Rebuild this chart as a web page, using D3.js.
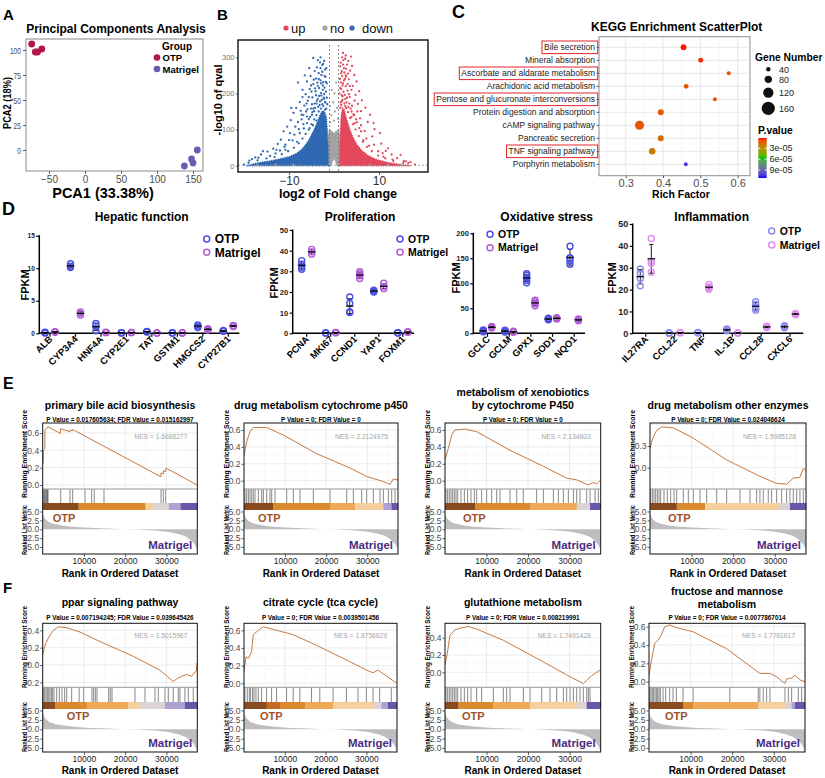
<!DOCTYPE html>
<html>
<head>
<meta charset="utf-8">
<script src="https://cdn.jsdelivr.net/npm/d3@7"></script>
<style>
  body { margin: 0; background: #fff; }
  svg { display: block; }
  text { font-family: "Liberation Sans", Arial, Helvetica, sans-serif; }
</style>
</head>
<body>
<svg id="fig" width="825" height="778"></svg>
<script>
// ---------------- data ----------------
// A: PCA
const pcaGroups = ["OTP", "Matrigel"];
const pcaOtpX = [-74, -69, -66, -60];
const pcaOtpY = [106, 98, 98, 101];
const pcaMatX = [156, 148, 150, 138];
const pcaMatY = [0, -9, -13, -16];
const pcaXTicks = [-50, 0, 50, 100, 150];
const pcaYTicks = [0, 25, 50, 75, 100];

// B: volcano (log2FC, -log10 q). dense cores as outlines, sparse points listed
const volLegend = ["up", "no", "down"];
const volXTicks = [-10, 10];
const volYTicks = [0, 100, 200, 300];
const volDownCore = [[-19.5,0],[-18,5],[-16,10],[-14,14],[-12,19],[-10,25],[-8.5,33],[-7.2,45],[-6.2,60],[-5.3,78],[-4.5,98],[-3.8,118],[-3.2,138],[-2.6,152],[-2.1,150],[-1.7,135],[-1.45,95],[-1.3,45],[-1.25,0]];
const volUpCore = [[1.25,0],[1.3,45],[1.4,100],[1.6,140],[1.9,160],[2.3,155],[2.8,130],[3.4,105],[4.1,82],[5.0,60],[6.2,42],[7.6,28],[9.5,17],[12,9],[14.5,4],[17,0]];
const volNoCore = [[-1.3,0],[-1.35,40],[-1.3,80],[-1.0,100],[-0.5,95],[0,90],[0.5,95],[1.0,100],[1.3,80],[1.35,40],[1.3,0],[0.6,0],[0.15,18],[-0.15,18],[-0.6,0]];
const volDown = [[-2.2,290],[-3.1,286],[-2.6,279],[-3.8,272],[-2.0,266],[-4.3,262],[-3.4,256],[-2.8,251],[-1.9,246],[-5.2,248],[-4.0,241],[-3.0,236],[-2.4,231],[-6.0,233],[-4.6,226],[-3.6,221],[-2.1,216],[-5.4,212],[-4.1,206],[-2.9,201],[-7.0,210],[-6.3,198],[-3.3,193],[-4.8,189],[-2.2,185],[-5.8,180],[-7.6,176],[-3.9,172],[-6.6,166],[-8.4,160],[-5.1,158],[-4.4,151],[-9.0,146],[-7.2,141],[-6.0,136],[-10.4,108],[-8.0,121],[-9.6,126],[-11.2,95],[-12.5,60],[-13.5,47],[-14.8,39],[-16.2,31],[-17.5,23],[-18.8,14],[-13.0,34],[-11.0,52],[-10.0,71],[-8.8,86],[-7.8,101],[-6.8,115],[-5.6,129],[-4.9,141],[-8.2,66],[-10.8,44],[-9.5,160],[-7.0,190],[-5.5,270],[-6.5,250],[-1.8,205],[-1.5,170],[-1.6,228],[-8.0,230],[-3.0,300],[-4.6,298],[-2.6,170],[-3.6,185],[-4.9,170],[-6.2,150],[-7.2,128],[-8.6,108],[-9.8,90],[-11.8,72],[-15.8,40],[-14.2,27],[-12.0,42],
  [-2.4,165],[-2.9,158],[-3.4,150],[-3.9,140],[-4.4,128],[-5.0,115],[-5.6,100],[-6.3,88],[-7.0,75],[-7.8,62],[-8.9,50],[-10.2,40],[-11.6,32],[-13.2,24],[-15.0,20],[-17.0,15],[-1.9,175],[-2.7,182],[-3.2,168],[-1.6,188],[-2.2,198],[-4.2,160],[-5.3,135],[-6.7,103],[-7.6,90],[-9.2,70],[-10.8,58],[-12.8,44],[-16.8,22],[-18.2,18],[-19.0,8],[-20.0,3],[-2.5,210],[-3.3,215],[-1.7,158],[-4.0,195],[-5.0,205],
  [-2.0,176],[-2.3,188],[-2.8,194],[-3.1,178],[-3.5,163],[-3.8,180],[-4.3,172],[-4.6,158],[-2.5,222],[-2.9,228],[-3.4,240],[-1.8,232],[-2.1,248],[-2.6,260],[-3.7,230],[-4.2,214],[-4.5,238],[-5.1,222],[-5.6,190],[-6.1,172],[-5.9,156],[-4.8,148],[-3.0,270],[-2.4,282],[-3.6,292],[-1.7,270],[-2.0,155],[-2.7,145],[-3.9,125],[-4.7,112],[-5.4,104],[-6.0,118],[-6.8,140],[-7.4,152]];
const volUp = [[1.8,300],[2.5,296],[3.2,290],[1.5,285],[2.9,280],[4.0,276],[2.2,270],[3.6,263],[1.6,256],[4.5,251],[2.7,246],[3.3,239],[5.0,233],[2.0,228],[4.2,221],[3.0,226],[5.6,206],[1.7,262],[4.8,196],[3.5,190],[6.2,181],[2.4,240],[5.3,171],[7.0,161],[4.0,166],[6.0,151],[8.0,141],[3.9,210],[7.5,121],[9.0,101],[8.5,81],[10.5,61],[6.8,96],[5.8,131],[11.5,41],[12.8,31],[14.0,21],[15.5,13],[13.0,17],[16.5,7],[9.8,40],[11.0,25],[6.5,70],[7.8,55],[4.5,140],[1.3,240],[1.2,200],[2.0,312],[3.8,302],[6.0,112],[8.8,118],[10.2,90],[5.2,150],[2.6,220],[1.4,275],[4.6,180],[3.1,255],[12.0,48],[14.8,30],[17.0,10],
  [1.5,175],[1.9,182],[2.3,172],[2.7,160],[3.1,148],[3.6,132],[4.2,115],[4.8,100],[5.5,82],[6.4,66],[7.3,52],[8.4,40],[9.8,28],[11.4,20],[13.2,13],[15.4,8],[1.7,195],[2.1,205],[2.9,188],[3.4,172],[1.4,160],[2.5,185],[3.9,150],[5.1,120],[6.0,95],[7.2,75],[8.9,58],[10.8,35],[18.0,3],[16.0,12],
  [1.6,212],[1.9,222],[2.2,236],[2.6,250],[1.5,230],[1.8,248],[2.3,258],[2.0,280],[2.7,268],[3.0,208],[3.3,198],[2.4,196],[1.6,168],[2.8,175],[3.7,158],[4.3,142],[4.9,128],[3.5,220],[2.1,292],[2.6,305],[1.9,192],[2.5,165],[3.2,162],[3.9,135],[4.6,118],[5.6,104],[1.4,215],[1.7,178]];
const volNo = [[-0.6,140],[0.2,150],[-0.2,175],[0.7,160],[-0.9,165],[0.1,200],[-0.5,210],[0.5,230],[0.0,125],[-0.8,120],[0.9,130],[-17,2],[-13,3],[-9,2],[8,3],[12,2],[15,2]];

// C: KEGG enrichment
const keggPathways = ["Bile secretion","Mineral absorption","Ascorbate and aldarate metabolism","Arachidonic acid metabolism","Pentose and glucuronate interconversions","Protein digestion and absorption","cAMP signaling pathway","Pancreatic secretion","TNF signaling pathway","Porphyrin metabolism"];
const keggRichFactor = [0.455, 0.501, 0.576, 0.462, 0.539, 0.394, 0.337, 0.394, 0.371, 0.461];
const keggGeneNumber = [60, 48, 35, 46, 35, 62, 103, 62, 70, 33];
const keggPValue = [2.7e-6, 4.4e-6, 1.0e-5, 1.05e-5, 1.1e-5, 1.3e-5, 1.1e-5, 1.8e-5, 2.3e-5, 1.04e-4];
const keggHighlighted = ["Bile secretion","Ascorbate and aldarate metabolism","Pentose and glucuronate interconversions","TNF signaling pathway"];
const keggXTicks = [0.3, 0.4, 0.5, 0.6];
const geneLegend = [40, 80, 120, 160];
const pLegend = [3e-5, 6e-5, 9e-5];

// D: FPKM dot plots
const hepGenes = ["ALB","CYP3A4","HNF4A","CYP2E1","TAT","GSTM1","HMGCS2","CYP27B1"];
const hepOTP = [[0.05,0.1,0.15],[10.1,10.3,10.7],[0.4,1.1,1.5],[0.05,0.1,0.1],[0.2,0.25,0.3],[0.05,0.05,0.1],[0.9,1.1,1.3],[0.3,0.35,0.45]];
const hepMat = [[0.15,0.2,0.25],[2.8,3.1,3.3],[0.1,0.12,0.15],[0.1,0.12,0.14],[0.03,0.05,0.06],[0.05,0.06,0.08],[0.5,0.6,0.7],[1.05,1.15,1.2]];
const proGenes = ["PCNA","MKI67","CCND1","YAP1","FOXM1"];
const proOTP = [[31,32,33.5,35.2],[0.1,0.2,0.2],[10.1,10.4,14.5,17.6],[20,20.4,20.9],[0.2,0.3,0.3]];
const proMat = [[38.3,39.4,40.6],[0.3,0.4,0.4],[26.5,27.8,28.8,29.8],[21.6,22.6,24.2],[0.5,0.6,0.6]];
const oxiGenes = ["GCLC","GCLM","GPX1","SOD1","NQO1"];
const oxiOTP = [[3,5,6.5],[2.5,4.5,6],[101,106,111,116,119],[27,28.5,30],[138,145,151,174]];
const oxiMat = [[10.5,12,13.5],[2,3,4],[55,59,63,66],[28.5,30,31],[25,27,28.5]];
const infGenes = ["IL27RA","CCL22","TNF","IL-1B","CCL28","CXCL6"];
const infOTP = [[21.7,25.1,27.4,29.4],[0.1,0.15,0.2],[0.2,0.3,0.4],[1.2,1.6,2.0],[10.6,11.4,13.2,14.4],[2.5,3,3.5]];
const infMat = [[27.9,32,33,43.4],[0.2,0.3,0.35],[20.2,20.6,21.2,22.4],[0.1,0.15,0.2],[2.5,3,3.2],[8.5,8.8,9.1]];

// E/F: GSEA
const gseaTitles = [["primary bile acid biosynthesis"],["drug metabolism cytochrome p450"],["metabolism of xenobiotics","by cytochrome P450"],["drug metabolism other enzymes"],["ppar signaling pathway"],["citrate cycle (tca cycle)"],["glutathione metabolism"],["fructose and mannose","metabolism"]];
const gseaStats = ["P Value = 0.017605634; FDR Value = 0.015162997","P Value = 0; FDR Value = 0","P Value = 0; FDR Value = 0","P Value = 0; FDR Value = 0.024046624","P Value = 0.007194245; FDR Value = 0.039645426","P Value = 0; FDR Value = 0.0039501456","P Value = 0; FDR Value = 0.008219991","P Value = 0; FDR Value = 0.0077867014"];
const gseaNES = ["1.6688277","2.2124975","2.134803","1.5985128","1.5015967","1.8756629","1.7491428","1.7761617"];
const gseaEsTicks = [[0,0.2,0.4,0.6],[0,0.2,0.4,0.6],[0,0.2,0.4,0.6],[0,0.25],[-0.2,0,0.2,0.4],[0,0.2,0.4,0.6],[0,0.2,0.4],[0,0.2,0.4,0.6]];
const gseaEsRank = [
  [0,120,130,520,540,950,1350,4300,4350,6600,6650,7250,7300,28650,28700,29250,29300,29850,29900,37500],
  [0,650,1460,2270,5520,9580,17690,25810,29870,33920,35550,36360,37500],
  [0,800,1600,2400,4800,7630,15660,23690,29310,31720,34530,35730,36540,37500],
  [0,640,1600,2800,5610,10410,18420,26430,30440,32840,34440,36050,36850,37500],
  [0,570,1370,2590,3800,5820,9050,13900,21980,28440,31670,32480,33690,34910,36120,36930,37300,37400,37500],
  [0,490,1060,1870,2280,3500,4730,7990,12060,17770,25920,29990,31620,32840,34070,37500],
  [0,560,1200,2410,3610,5620,7630,14050,23690,29310,33320,34130,35330,36540,37500],
  [0,560,1370,2170,2970,3770,4980,6580,10600,18630,26660,29070,30670,32680,33080,34290,35090,36290,37500]
];
const gseaEsValue = [
  [0.24,0.26,0.40,0.42,0.63,0.66,0.67,0.595,0.65,0.615,0.635,0.625,0.64,0.095,0.14,0.125,0.165,0.155,0.195,0.0],
  [0.30,0.46,0.58,0.63,0.63,0.54,0.32,0.15,0.05,-0.01,-0.045,0.02,0.01],
  [0.245,0.38,0.54,0.60,0.61,0.58,0.36,0.17,0.03,0.01,-0.05,-0.02,-0.04,0.01],
  [0.22,0.34,0.43,0.47,0.46,0.34,0.09,-0.10,-0.18,-0.19,-0.12,-0.11,-0.01,-0.03],
  [0.115,0.23,0.31,0.40,0.44,0.43,0.38,0.27,0.10,-0.06,-0.19,-0.16,-0.13,-0.11,-0.13,-0.08,-0.07,0.02,0.01],
  [0.13,0.30,0.28,0.36,0.55,0.60,0.64,0.60,0.55,0.43,0.245,0.15,0.12,0.15,0.11,0.0],
  [0.085,0.22,0.43,0.49,0.51,0.53,0.50,0.37,0.12,-0.03,-0.13,-0.09,-0.04,0.0,0.03],
  [0.07,0.22,0.42,0.45,0.51,0.60,0.62,0.59,0.545,0.36,0.09,0.09,0.055,-0.02,0.03,0.04,0.07,0.02,0.0]
];
const gseaHits = [
  [150,350,550,750,950,1150,1300,4360,6620,7270,10250,11880,12500,14870,28700,29250,29840],
  [240,650,1060,1460,1870,2270,2680,3490,4300,4710,5520,6330,6740,7550,10390,12020,13640,16890,20950,25010,26630,28660,29880,31500,33130,33940,35160,35970,36780],
  [240,640,1040,1440,1850,2250,2650,3050,3850,4660,5460,6260,7070,7630,8830,10040,11240,12450,13250,15660,17260,18870,22080,23690,26100,27300,28510,29710,30920,31720,32520,34130,34930,36140,36940],
  [160,560,960,1360,1760,2160,2560,3360,4170,4970,5770,6410,8010,9210,10410,12020,13620,16020,18420,21630,24030,25630,26430,27230,28430,29230,30440,31640,32840,33640,34440,35250,36050,36850],
  [160,490,810,1130,1450,1780,2100,2420,2750,3400,4040,4690,5330,5820,7030,8840,9940,11960,12360,12770,13170,16000,16400,16810,22380,24810,27230,28040,29660,30460,31670,32880,33290,34500,35310,36520],
  [240,810,1300,1630,2120,2450,2930,3500,4320,5540,6760,7990,10430,12060,13690,16540,18580,21840,25100,27950,29990,31620,33250,36100],
  [240,640,1040,1440,1850,2250,2650,3050,3850,4660,5460,6260,7630,8830,11640,14050,14850,15660,18870,20480,23290,25290,26900,28510,29310,30110,30920,31720,32520,33320,34130,34530,34930],
  [160,480,800,1120,1450,1770,2090,2410,2730,3370,4010,4980,5780,6580,8190,10600,19430,26260,26660,27460,28270,29070,32680,33480,34290,35890,36690]
];
// colour bar: segment start rank and metric level (0 = strongly OTP ... 7 = strongly Matrigel)
const gseaBarStart = [
  [0,8690,24930,26800,30610,33450],
  [0,7150,20950,27040,33940,35970],
  [0,7230,20480,31720,34930],
  [0,6410,13220,31240,33640],
  [0,2990,10670,20770,23590,29650,34500],
  [0,5540,8800,14910,21840,31620,33660,35290],
  [0,3210,11640,20480,31720,34130],
  [0,8190,10600,26260,32680,34290,35090]
];
const gseaBarLevel = [
  [0,2,4,5,6,7],[0,2,3,4,6,7],[0,2,3,5,7],[0,2,4,5,7],
  [0,2,3,4,5,6,7],[0,1,2,3,4,5,6,7],[0,2,3,4,5,7],[0,2,3,4,5,6,7]
];
const rankedX = [0,300,1000,2500,5000,9000,14000,20000,25000,29000,32000,34500,36000,37000,37500];
const rankedY = [4.8,3.6,2.5,1.6,1.0,0.55,0.25,0.02,-0.2,-0.55,-1.1,-2.0,-3.2,-4.6,-6.0];
const rankTicks = [5, 2.5, 0, -2.5, -5];
const rankAxisTicks = [10000, 20000, 30000];

// ---------------- layout ----------------
const barColors = ["#8A4A1F","#C46A22","#DC8A2E","#EFAA58","#F6CF9E","#DCD4D4","#ADA2D4","#6A56A8"];
const rowE = {top:423, esBot:489, hitBot:503, cbBot:510, bot:554, r5:511.5, rm5:547, xLab:565, xTitle:577, pY:421.5, tY:[409], tY2:[396,409], otpY:522, matY:549, nesY:438.5, runC:454, runLen:88, rankC:530, rankLen:50};
const rowF = {top:623.3, esBot:687.3, hitBot:702, cbBot:709, bot:752, r5:710.5, rm5:748, xLab:764, xTitle:774, pY:619.5, tY:[606], tY2:[595,608], otpY:720, matY:747, nesY:638, runC:647, runLen:82, rankC:727, rankLen:50};
const gseaLayout = [
  {row:rowE, x0:42.7, x1:197.3, ref:0.6, refY:433, zeroY:485, otpDx:10},
  {row:rowE, x0:244, x1:398, ref:0.6, refY:430, zeroY:480.7, otpDx:14},
  {row:rowE, x0:445, x1:600.7, ref:0.6, refY:430, zeroY:480.7, otpDx:18},
  {row:rowE, x0:650, x1:806, ref:0.25, refY:446, zeroY:467.7, otpDx:18},
  {row:rowF, x0:42.7, x1:197.3, ref:0.4, refY:630.3, zeroY:665, otpDx:24},
  {row:rowF, x0:244, x1:397, ref:0.6, refY:630.3, zeroY:683.3, otpDx:16},
  {row:rowF, x0:445, x1:600.7, ref:0.4, refY:637.7, zeroY:672.3, otpDx:17},
  {row:rowF, x0:649, x1:805, ref:0.6, refY:626.7, zeroY:681.7, otpDx:16}
];
const dotPanels = [
  {genes:hepGenes, otp:hepOTP, mat:hepMat, title:"Hepatic function"},
  {genes:proGenes, otp:proOTP, mat:proMat, title:"Proliferation"},
  {genes:oxiGenes, otp:oxiOTP, mat:oxiMat, title:"Oxidative stress"},
  {genes:infGenes, otp:infOTP, mat:infMat, title:"Inflammation"}
];
const dotLayout = [
  {ax0:39.3, ax1:239.3, c0:50, c1:228.3, dx:5, yMax:15, yTop:235.7, ticks:[0,5,10,15], tfs:6.5, tx:141.7, fx:25, fy:285, lx:206.7, ly:239, lgap:13.3, lfs:12, col:["#4B4FE3","#B35BD8"]},
  {ax0:292.7, ax1:414, c0:306.7, c1:402.8, dx:5, yMax:50, yTop:230, ticks:[0,10,20,30,40,50], tfs:7.5, tx:360, fx:274, fy:283, lx:400, ly:239, lgap:13.3, lfs:10.5, col:["#4B4FE3","#B35BD8"]},
  {ax0:473.3, ax1:585, c0:487.5, c1:574.2, dx:4.2, yMax:200, yTop:233.3, ticks:[0,50,100,150,200], tfs:7.5, tx:546.7, fx:455.7, fy:278, lx:490, ly:234.3, lgap:13.4, lfs:10.5, col:["#4B4FE3","#B35BD8"]},
  {ax0:632.7, ax1:803.3, c0:645.8, c1:790, dx:5.5, yMax:50, yTop:224, ticks:[0,10,20,30,40,50], tfs:9, tx:711.7, fx:611.7, fy:278, lx:771.7, ly:231, lgap:14, lfs:10.5, col:["#8C8CF0","#E08CF0"]}
];

// ---------------- helpers ----------------
const svg = d3.select("#fig");

function label(g, x, y, s, o) {
  o = o || {};
  const t = g.append("text").attr("x", x).attr("y", y).text(s)
    .attr("font-size", o.size || 10)
    .attr("font-weight", o.bold ? "bold" : "normal")
    .attr("fill", o.fill || "#000")
    .attr("text-anchor", o.anchor || "start");
  if (o.rotate) t.attr("transform", `rotate(${o.rotate},${x},${y})`);
  if (o.len) t.attr("textLength", o.len).attr("lengthAdjust", "spacingAndGlyphs");
  return t;
}

function tidyAxis(a, size, fill, bold) {
  a.select(".domain").remove();
  a.selectAll(".tick line").attr("stroke", "#333").attr("stroke-width", 0.8);
  a.selectAll(".tick text").attr("font-size", size).attr("fill", fill)
    .attr("font-weight", bold ? "bold" : "normal");
  return a;
}

// panel letters
[["A",3,20,15],["B",217,20,15],["C",452,18,18],["D",2,215,18],["E",3,389,16],["F",3,593,15]]
  .forEach(d => label(svg, d[1], d[2], d[0], {size: d[3], bold: true}));

// ---------------- A: PCA ----------------
{
  const g = svg.append("g");
  const x = d3.scaleLinear().domain([-50, 150]).range([49, 193]);
  const y = d3.scaleLinear().domain([0, 100]).range([150, 50]);
  const col = d3.scaleOrdinal().domain(pcaGroups).range(["#B3164B", "#6A5CB2"]);
  label(g, 116, 33, "Principal Components Analysis", {size: 12, bold: true, anchor: "middle"});
  g.append("rect").attr("x", 26).attr("y", 39).attr("width", 177).attr("height", 132)
    .attr("fill", "#fff").attr("stroke", "#8a8a8a");
  tidyAxis(g.append("g").attr("transform", "translate(0,171)")
    .call(d3.axisBottom(x).tickValues(pcaXTicks).tickSize(3).tickPadding(1.5)), 10, "#4d4d4d");
  const ya = tidyAxis(g.append("g").attr("transform", "translate(26,0)")
    .call(d3.axisLeft(y).tickValues(pcaYTicks).tickSize(3).tickPadding(2)), 9.5, "#4d4d4d");
  ya.selectAll(".tick text").attr("textLength", d => String(d).length * 3.7).attr("lengthAdjust", "spacingAndGlyphs");
  const pts = d3.zip(pcaOtpX, pcaOtpY).map(d => [d[0], d[1], "OTP"])
    .concat(d3.zip(pcaMatX, pcaMatY).map(d => [d[0], d[1], "Matrigel"]));
  g.selectAll("circle.pc").data(pts).join("circle")
    .attr("cx", d => x(d[0])).attr("cy", d => y(d[1])).attr("r", 3.4)
    .attr("fill", d => col(d[2]));
  label(g, 103, 198, "PCA1 (33.38%)", {size: 14.5, bold: true, anchor: "middle"});
  label(g, 10.5, 103, "PCA2 (18%)", {size: 11.5, bold: true, anchor: "middle", rotate: -90, len: 52});
  label(g, 162, 49.5, "Group", {size: 10, bold: true});
  pcaGroups.forEach((k, i) => {
    g.append("circle").attr("cx", 157).attr("cy", 57.5 + i * 11.5).attr("r", 3.3).attr("fill", col(k));
    label(g, 162.5, 61 + i * 11.5, k, {size: 9.5, bold: true});
  });
}

// ---------------- B: volcano ----------------
{
  const g = svg.append("g");
  const x = d3.scaleLinear().domain([-10, 10]).range([289, 379]);
  const y = d3.scaleLinear().domain([0, 300]).range([165.7, 57.3]);
  const col = d3.scaleOrdinal().domain(volLegend).range(["#E2475B", "#A3A3A3", "#2F68B3"]);
  g.append("clipPath").attr("id", "volclip").append("rect")
    .attr("x", 238).attr("y", 40).attr("width", 190).attr("height", 132);
  const p = g.append("g").attr("clip-path", "url(#volclip)");
  const poly = d3.line().x(d => x(d[0])).y(d => y(d[1])).curve(d3.curveLinearClosed);
  [[volNoCore, "no"], [volDownCore, "down"], [volUpCore, "up"]].forEach(c =>
    p.append("path").attr("d", poly(c[0])).attr("fill", col(c[1]))
      .attr("stroke", col(c[1])).attr("stroke-width", 1.4).attr("stroke-dasharray", "1,1.3"));
  [[volNo, "no"], [volDown, "down"], [volUp, "up"]].forEach(c =>
    p.selectAll(null).data(c[0]).join("circle")
      .attr("cx", d => x(d[0])).attr("cy", d => y(d[1])).attr("r", 1.15).attr("fill", col(c[1])));
  [-1, 1].forEach(v => p.append("line").attr("x1", x(v)).attr("x2", x(v)).attr("y1", 45).attr("y2", 172)
    .attr("stroke", "#777").attr("stroke-width", 0.8).attr("stroke-dasharray", "2,2"));
  p.append("line").attr("x1", 238).attr("x2", 428).attr("y1", y(1.3)).attr("y2", y(1.3))
    .attr("stroke", "#888").attr("stroke-width", 0.8).attr("stroke-dasharray", "2,2");
  g.append("rect").attr("x", 238).attr("y", 40).attr("width", 190).attr("height", 132)
    .attr("fill", "none").attr("stroke", "#111").attr("stroke-width", 1.4);
  tidyAxis(g.append("g").attr("transform", "translate(0,172)")
    .call(d3.axisBottom(x).tickValues(volXTicks).tickSize(3).tickPadding(1.5)), 12, "#333");
  tidyAxis(g.append("g").attr("transform", "translate(238,0)")
    .call(d3.axisLeft(y).tickValues(volYTicks).tickSize(2).tickPadding(1.5)), 7.5, "#777");
  label(g, 338, 198, "log2 of Fold change", {size: 12.5, bold: true, anchor: "middle"});
  label(g, 222, 100, "-log10 of qval", {size: 11, bold: true, anchor: "middle", rotate: -90});
  const lx = [286, 325, 352];
  volLegend.forEach((k, i) => {
    g.append("circle").attr("cx", lx[i]).attr("cy", 28).attr("r", 2.6).attr("fill", col(k));
    label(g, lx[i] + (i === 2 ? 10 : 5), 32.5, k, {size: 13, fill: "#111"});
  });
}

// ---------------- C: KEGG ----------------
{
  const g = svg.append("g");
  const x = d3.scaleLinear().domain([0.2285, 0.633]).range([599, 750]);
  const y = d3.scalePoint().domain(keggPathways).range([47.3, 164.3]);
  const size = d3.scaleLinear().domain([40, 160]).range([2.2, 6.6]);
  const pLo = 1.6e-6, pHi = 1.12e-4;
  const col = d3.scaleLinear().domain([pLo, (pLo + pHi) / 2, pHi])
    .range(["#FF0000", "#00C000", "#0000FF"]).interpolate(d3.interpolateLab);
  label(g, 676.7, 31, "KEGG Enrichment ScatterPlot", {size: 12, bold: true, anchor: "middle"});
  g.append("rect").attr("x", 599).attr("y", 36.7).attr("width", 151).attr("height", 139).attr("fill", "#fff");
  [0.25, 0.35, 0.45, 0.55].forEach(v => g.append("line").attr("x1", x(v)).attr("x2", x(v))
    .attr("y1", 36.7).attr("y2", 175.7).attr("stroke", "#F2F2F2").attr("stroke-width", 0.6));
  keggXTicks.forEach(v => g.append("line").attr("x1", x(v)).attr("x2", x(v))
    .attr("y1", 36.7).attr("y2", 175.7).attr("stroke", "#E3E3E3").attr("stroke-width", 0.8));
  keggPathways.forEach(k => g.append("line").attr("x1", 599).attr("x2", 750)
    .attr("y1", y(k)).attr("y2", y(k)).attr("stroke", "#E3E3E3").attr("stroke-width", 0.8));
  const pts = keggPathways.map((k, i) => ({k, r: keggRichFactor[i], n: keggGeneNumber[i], p: keggPValue[i]}))
    .sort((a, b) => b.n - a.n);
  g.selectAll("circle.kegg").data(pts).join("circle")
    .attr("cx", d => x(d.r)).attr("cy", d => y(d.k)).attr("r", d => size(d.n)).attr("fill", d => col(d.p));
  g.append("rect").attr("x", 599).attr("y", 36.7).attr("width", 151).attr("height", 139)
    .attr("fill", "none").attr("stroke", "#8c8c8c").attr("stroke-width", 1);
  tidyAxis(g.append("g").attr("transform", "translate(0,175.7)")
    .call(d3.axisBottom(x).tickValues(keggXTicks).tickSize(2.5).tickPadding(1).tickFormat(d3.format(".1f"))), 11, "#4d4d4d");
  keggPathways.forEach(k => {
    g.append("line").attr("x1", 596.5).attr("x2", 599).attr("y1", y(k)).attr("y2", y(k)).attr("stroke", "#333").attr("stroke-width", 0.8);
    const t = label(g, 595, y(k) + 3, k, {size: 8.5, fill: "#222", anchor: "end"});
    if (keggHighlighted.includes(k)) {
      const b = t.node().getBBox();
      g.append("rect").attr("x", b.x - 2).attr("y", y(k) - 6.3).attr("width", 597.7 - b.x + 2).attr("height", 12.6)
        .attr("fill", "none").attr("stroke", "#E3262E").attr("stroke-width", 1);
    }
  });
  label(g, 681, 198, "Rich Factor", {size: 10.5, bold: true, anchor: "middle"});
  // size legend
  label(g, 755, 61, "Gene Number", {size: 10.3, bold: true});
  const ly = [69.3, 79.3, 92.7, 108.3];
  geneLegend.forEach((v, i) => {
    g.append("circle").attr("cx", 768.3).attr("cy", ly[i]).attr("r", size(v)).attr("fill", "#111");
    label(g, 779, ly[i] + 3.2, v, {size: 9, fill: "#222"});
  });
  // colour legend
  label(g, 758, 134, "P.value", {size: 10.3, bold: true});
  const py = d3.scaleLinear().domain([pLo, pHi]).range([138, 178]);
  const grad = g.append("defs").append("linearGradient").attr("id", "pgrad")
    .attr("x1", 0).attr("y1", 0).attr("x2", 0).attr("y2", 1);
  d3.range(0, 1.0001, 0.05).forEach(t => grad.append("stop").attr("offset", t)
    .attr("stop-color", col(pLo + t * (pHi - pLo))));
  g.append("rect").attr("x", 758.3).attr("y", 138).attr("width", 8.4).attr("height", 40).attr("fill", "url(#pgrad)");
  pLegend.forEach(v => {
    g.append("line").attr("x1", 758.3).attr("x2", 760.3).attr("y1", py(v)).attr("y2", py(v)).attr("stroke", "#fff");
    g.append("line").attr("x1", 764.7).attr("x2", 766.7).attr("y1", py(v)).attr("y2", py(v)).attr("stroke", "#fff");
    label(g, 769.5, py(v) + 3, d3.format(".0e")(v).replace("e-5", "e-05"), {size: 9, fill: "#222"});
  });
}

// ---------------- D: dot plots ----------------
function dotPanel(k) {
  const P = dotPanels[k], L = dotLayout[k];
  const g = svg.append("g");
  const base = 333.3;
  const x = d3.scalePoint().domain(P.genes).range([L.c0, L.c1]);
  const y = d3.scaleLinear().domain([0, L.yMax]).range([base, L.yTop]);
  label(g, L.tx, 221, P.title, {size: 12, bold: true, anchor: "middle"});
  label(g, L.fx + 4, L.fy, "FPKM", {size: 11, bold: true, anchor: "middle", rotate: -90});
  const ax = tidyAxis(g.append("g").attr("transform", `translate(${L.ax0},0)`)
    .call(d3.axisLeft(y).tickValues(L.ticks).tickSize(3).tickPadding(1.5)), L.tfs, "#222", true);
  ax.selectAll(".tick line").attr("stroke", "#000").attr("stroke-width", 1.2);
  g.append("line").attr("x1", L.ax0).attr("x2", L.ax0).attr("y1", base + 0.7).attr("y2", L.yTop - 0.5)
    .attr("stroke", "#000").attr("stroke-width", 1.5);
  g.append("line").attr("x1", L.ax0).attr("x2", L.ax1).attr("y1", base).attr("y2", base)
    .attr("stroke", "#000").attr("stroke-width", 1.5);
  P.genes.forEach(gn => {
    g.append("line").attr("x1", x(gn)).attr("x2", x(gn)).attr("y1", base).attr("y2", base + 3.5)
      .attr("stroke", "#000").attr("stroke-width", 1.2);
    label(g, x(gn) + 3, base + 6.5, gn, {size: 9.5, bold: true, anchor: "end", rotate: -45});
  });
  [[P.otp, -L.dx, L.col[0]], [P.mat, L.dx, L.col[1]]].forEach(([vals, dx, c]) => {
    vals.forEach((v, i) => {
      const cx = x(P.genes[i]) + dx;
      const m = d3.mean(v), sd = d3.deviation(v) || 0;
      g.append("line").attr("x1", cx).attr("x2", cx).attr("y1", y(m - sd)).attr("y2", y(m + sd))
        .attr("stroke", "#000").attr("stroke-width", 0.9);
      [m - sd, m + sd].forEach(e => g.append("line").attr("x1", cx - 2.2).attr("x2", cx + 2.2)
        .attr("y1", y(e)).attr("y2", y(e)).attr("stroke", "#000").attr("stroke-width", 0.9));
      g.selectAll(null).data(v).join("circle").attr("cx", cx).attr("cy", d => y(d)).attr("r", 3)
        .attr("fill", "none").attr("stroke", c).attr("stroke-width", 1.4);
      g.append("line").attr("x1", cx - 3.8).attr("x2", cx + 3.8).attr("y1", y(m)).attr("y2", y(m))
        .attr("stroke", "#000").attr("stroke-width", 1.2);
    });
  });
  pcaGroups.forEach((name, i) => {
    const cy = L.ly + i * L.lgap;
    g.append("circle").attr("cx", L.lx).attr("cy", cy).attr("r", 3).attr("fill", "#fff")
      .attr("stroke", L.col[i]).attr("stroke-width", 1.5);
    label(g, L.lx + 8, cy + L.lfs * 0.36, name, {size: L.lfs, bold: true});
  });
}
dotPanels.forEach((d, k) => dotPanel(k));

// ---------------- E/F: GSEA ----------------
function gseaPanel(i) {
  const L = gseaLayout[i], R = L.row;
  const g = svg.append("g");
  const w = L.x1 - L.x0;
  const x = d3.scaleLinear().domain([0, 37500]).range([L.x0, L.x1]);
  const y = d3.scaleLinear().domain([0, L.ref]).range([L.zeroY, L.refY]);
  const yr = d3.scaleLinear().domain([5, -5]).range([R.r5, R.rm5]);
  const cx = (L.x0 + L.x1) / 2;
  // titles
  const tys = gseaTitles[i].length > 1 ? R.tY2 : R.tY;
  gseaTitles[i].forEach((t, j) => label(g, cx, tys[j], t, {size: 10.5, bold: true, anchor: "middle"}));
  label(g, cx, R.pY, gseaStats[i], {size: 6.4, bold: true, anchor: "middle"});
  g.append("rect").attr("x", L.x0).attr("y", R.top).attr("width", w).attr("height", R.bot - R.top).attr("fill", "#fff");
  // grid in ES region
  const ticks = gseaEsTicks[i];
  const step = ticks[1] - ticks[0];
  const lo = y.invert(R.esBot), hi = y.invert(R.top);
  d3.range(-1, 1.0001, step / 2).map(v => +v.toFixed(4)).filter(v => v > lo && v < hi).forEach(v => {
    const major = Math.abs(Math.round(v / step) * step - v) < 1e-6;
    g.append("line").attr("x1", L.x0).attr("x2", L.x1).attr("y1", y(v)).attr("y2", y(v))
      .attr("stroke", major ? "#E6E6E6" : "#F3F3F3").attr("stroke-width", major ? 0.8 : 0.5);
  });
  [5000, 10000, 15000, 20000, 25000, 30000, 35000].forEach(v => {
    const major = v % 10000 === 0;
    g.append("line").attr("x1", x(v)).attr("x2", x(v)).attr("y1", R.top).attr("y2", R.esBot)
      .attr("stroke", major ? "#E6E6E6" : "#F3F3F3").attr("stroke-width", major ? 0.8 : 0.5);
  });
  // running enrichment score
  g.append("clipPath").attr("id", "esclip" + i).append("rect")
    .attr("x", L.x0).attr("y", R.top).attr("width", w).attr("height", R.esBot - R.top);
  g.append("path").datum(d3.zip(gseaEsRank[i], gseaEsValue[i])).attr("clip-path", `url(#esclip${i})`)
    .attr("d", d3.line().x(d => x(d[0])).y(d => y(d[1])))
    .attr("fill", "none").attr("stroke", "#C47A45").attr("stroke-width", 1);
  g.append("line").attr("x1", L.x0).attr("x2", L.x1).attr("y1", R.esBot).attr("y2", R.esBot)
    .attr("stroke", "#8c8c8c").attr("stroke-width", 0.9);
  // hits
  g.selectAll(null).data(gseaHits[i]).join("line")
    .attr("x1", d => x(d)).attr("x2", d => x(d)).attr("y1", R.esBot + 0.5).attr("y2", R.hitBot)
    .attr("stroke", "#2a2a2a").attr("stroke-opacity", 0.8).attr("stroke-width", 0.7);
  // colour bar
  const starts = gseaBarStart[i];
  starts.forEach((s, j) => {
    const e = j + 1 < starts.length ? starts[j + 1] : 37500;
    g.append("rect").attr("x", x(s)).attr("y", R.hitBot).attr("width", x(e) - x(s) + 0.3)
      .attr("height", R.cbBot - R.hitBot).attr("fill", barColors[gseaBarLevel[i][j]]);
  });
  // ranked list metric
  g.append("clipPath").attr("id", "rkclip" + i).append("rect")
    .attr("x", L.x0).attr("y", R.cbBot).attr("width", w).attr("height", R.bot - R.cbBot);
  g.append("path").datum(d3.zip(rankedX, rankedY)).attr("clip-path", `url(#rkclip${i})`)
    .attr("d", d3.area().x(d => x(d[0])).y0(yr(0)).y1(d => yr(d[1])).curve(d3.curveMonotoneX))
    .attr("fill", "#BEBEBE");
  g.append("rect").attr("x", L.x0).attr("y", R.top).attr("width", w).attr("height", R.bot - R.top)
    .attr("fill", "none").attr("stroke", "#111").attr("stroke-width", 1);
  // axes
  const fmt = step < 0.2 ? (v => v.toFixed(2)) : (v => v.toFixed(1));
  tidyAxis(g.append("g").attr("transform", `translate(${L.x0},0)`)
    .call(d3.axisLeft(y).tickValues(ticks).tickSize(2.5).tickPadding(1).tickFormat(fmt)), 8.5, "#4d4d4d");
  tidyAxis(g.append("g").attr("transform", `translate(${L.x0},0)`)
    .call(d3.axisLeft(yr).tickValues(rankTicks).tickSize(2.5).tickPadding(1).tickFormat(v => v.toFixed(1))), 8.5, "#4d4d4d");
  tidyAxis(g.append("g").attr("transform", `translate(0,${R.bot})`)
    .call(d3.axisBottom(x).tickValues(rankAxisTicks).tickSize(3).tickPadding(1).tickFormat(d3.format("d"))), 8.5, "#222");
  label(g, cx, R.xTitle, "Rank in Ordered Dataset", {size: 10, bold: true, anchor: "middle"});
  label(g, L.x0 - 15.5, R.runC, "Running Enrichment Score", {size: 7, bold: true, anchor: "middle", rotate: -90, len: R.runLen});
  label(g, L.x0 - 15.5, R.rankC, "Ranked List Metric", {size: 7, bold: true, anchor: "middle", rotate: -90, len: R.rankLen});
  label(g, L.x1 - 10, R.nesY, "NES = " + gseaNES[i], {size: 6.7, fill: "#A6A6A6", anchor: "end"});
  label(g, L.x0 + L.otpDx, R.otpY, "OTP", {size: 11, bold: true, fill: "#A0522D"});
  label(g, L.x1 - 5, R.matY, "Matrigel", {size: 11.5, bold: true, fill: "#4B2C7F", anchor: "end"});
}
gseaLayout.forEach((d, i) => gseaPanel(i));
</script>
</body>
</html>
